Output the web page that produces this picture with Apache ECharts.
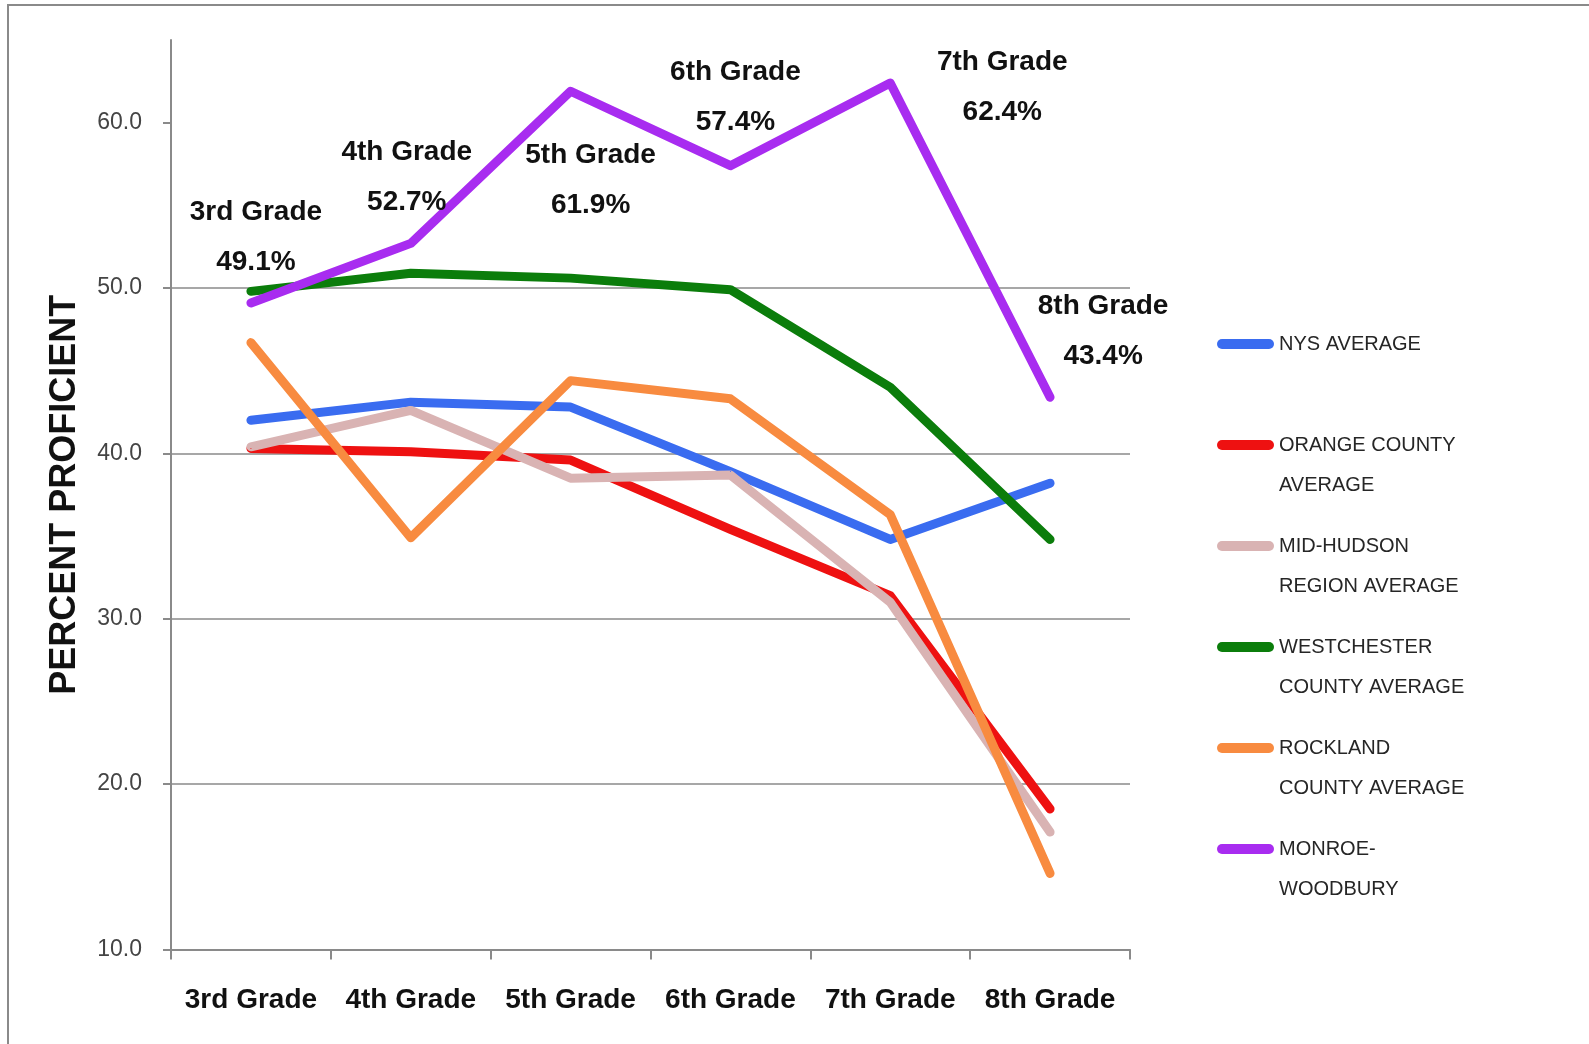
<!DOCTYPE html>
<html>
<head>
<meta charset="utf-8">
<script src="https://cdn.jsdelivr.net/npm/echarts@6/dist/echarts.min.js"></script>
<style>
  html, body { margin: 0; padding: 0; background: #fff; }
  #chart { width: 1589px; height: 1044px; }
</style>
</head>
<body>
<div id="chart"></div>
<script>
// grades on the x axis
const grades = ['3rd Grade', '4th Grade', '5th Grade', '6th Grade', '7th Grade', '8th Grade']
const yTicks = [10, 20, 30, 40, 50, 60]

// percent proficient
const nysAverage = [42.0, 43.1, 42.8, 38.9, 34.8, 38.2]
const orangeCounty = [40.3, 40.1, 39.6, 35.4, 31.4, 18.5]
const midHudson = [40.4, 42.6, 38.5, 38.7, 31.0, 17.1]
const westchester = [49.8, 50.9, 50.6, 49.9, 44.0, 34.8]
const rockland = [46.7, 34.9, 44.4, 43.3, 36.3, 14.6]
const monroeWoodbury = [49.1, 52.7, 61.9, 57.4, 62.4, 43.4]

// legend text, two lines each
const legendNames = ['NYS AVERAGE', 'ORANGE COUNTY', 'MID-HUDSON', 'WESTCHESTER', 'ROCKLAND', 'MONROE-']
const legendSecondLine = [' ', 'AVERAGE', 'REGION AVERAGE', 'COUNTY AVERAGE', 'COUNTY AVERAGE', 'WOODBURY']

// where each Monroe-Woodbury label sits relative to its point
const labelOffsets = [[5, -66], [-4, -66], [20, 89], [5, -68], [112, 4], [53, -66]]

const sans = '"Liberation Sans", Arial, sans-serif'

let myChart = echarts.init(document.getElementById('chart'))

function makeLine(name, values, color, withLabels) {
  return {
    name: name,
    type: 'line',
    symbol: 'circle',
    symbolSize: 1,
    showSymbol: true,
    itemStyle: { color: color },
    lineStyle: { color: color, width: 9, cap: 'round', join: 'round' },
    emphasis: { disabled: true },
    data: values.map(function (v, i) {
      if (!withLabels) return v
      return {
        value: v,
        label: {
          show: true,
          position: 'inside',
          offset: labelOffsets[i],
          formatter: grades[i] + '\n' + v.toFixed(1) + '%',
          fontFamily: sans,
          fontWeight: 'bold',
          fontSize: 28,
          lineHeight: 50,
          color: '#111'
        }
      }
    })
  }
}

const options = {
  animation: false,
  backgroundColor: '#fff',
  graphic: [
    {
      type: 'polyline',
      shape: { points: [[8, 1044], [8, 5], [1589, 5]] },
      style: { stroke: '#8a8a8a', lineWidth: 2, fill: null },
      silent: true
    }
  ],
  legend: {
    orient: 'vertical',
    left: 1212,
    top: 279,
    itemWidth: 57,
    itemHeight: 10,
    itemGap: -19,
    icon: 'path://M5,0 L52,0 A5,5 0 0 1 52,10 L5,10 A5,5 0 0 1 5,0 Z',
    selectedMode: false,
    textStyle: {
      fontFamily: sans,
      fontSize: 20,
      lineHeight: 40,
      color: '#262626'
    },
    data: legendNames,
    formatter: function (name) {
      // empty first line keeps the first text line level with the icon
      return '\n' + name + '\n' + legendSecondLine[legendNames.indexOf(name)]
    }
  },
  grid: {
    left: 171,
    right: 459,
    top: 40,
    bottom: 94.5,
    containLabel: false
  },
  xAxis: {
    type: 'category',
    boundaryGap: true,
    data: grades,
    axisLine: { show: true, lineStyle: { color: '#8a8a8a', width: 2 } },
    axisTick: { show: true, length: 10, lineStyle: { color: '#8a8a8a', width: 2 } },
    axisLabel: {
      interval: 0,
      margin: 37,
      fontFamily: sans,
      fontWeight: 'bold',
      fontSize: 28,
      color: '#111'
    }
  },
  yAxis: {
    type: 'value',
    min: 10,
    max: 65,
    interval: 10,
    name: 'PERCENT PROFICIENT',
    nameLocation: 'middle',
    nameRotate: 90,
    nameGap: 88,
    nameTextStyle: {
      fontFamily: sans,
      fontWeight: 'bold',
      fontSize: 36,
      color: '#111'
    },
    axisLine: { show: true, lineStyle: { color: '#8a8a8a', width: 2 } },
    axisTick: {
      show: true,
      inside: false,
      length: 8,
      customValues: yTicks,
      lineStyle: { color: '#8a8a8a', width: 2 }
    },
    axisLabel: {
      margin: 29,
      customValues: yTicks,
      fontFamily: sans,
      fontSize: 23,
      color: '#444',
      formatter: function (v) { return v.toFixed(1) }
    },
    splitLine: {
      show: true,
      showMaxLine: false,
      lineStyle: { color: '#8a8a8a', width: 1.5 }
    }
  },
  series: [
    makeLine('NYS AVERAGE', nysAverage, '#3a6cf0', false),
    makeLine('ORANGE COUNTY', orangeCounty, '#ee1111', false),
    makeLine('MID-HUDSON', midHudson, '#d9b3b3', false),
    makeLine('WESTCHESTER', westchester, '#0b7d0b', false),
    makeLine('ROCKLAND', rockland, '#f88b40', false),
    makeLine('MONROE-', monroeWoodbury, '#a82cf0', true)
  ]
}
myChart.setOption(options)
</script>
</body>
</html>
